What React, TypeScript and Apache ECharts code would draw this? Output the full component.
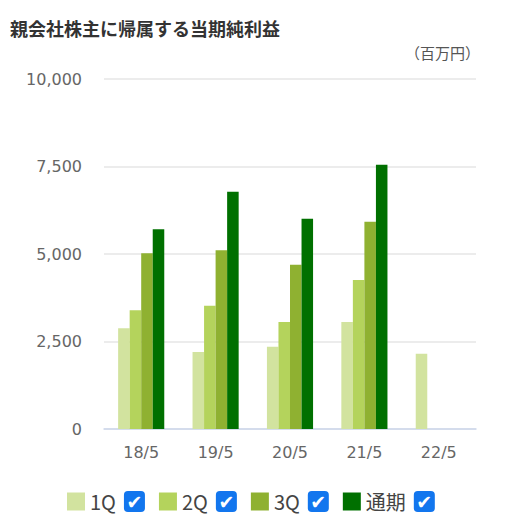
import * as echarts from 'echarts';
import { useEffect, useRef } from 'react';

const categories = ['18/5', '19/5', '20/5', '21/5', '22/5'];
const seriesNames = ['1Q', '2Q', '3Q', '通期'];
const q1 = [2880, 2200, 2350, 3060, 2150];
const q2 = [3390, 3520, 3060, 4260, null];
const q3 = [5020, 5110, 4690, 5920, null];
const full = [5710, 6780, 6010, 7550, null];
const colors = ['#d2e39f', '#b4d35c', '#8fb131', '#007000'];

export default function App() {
    const chartRef = useRef<HTMLDivElement>(null);

    useEffect(() => {
        document.body.style.margin = '0';
        const chart = echarts.init(chartRef.current, null, { renderer: 'svg' });
        const values = [q1, q2, q3, full];

        chart.setOption({
            animation: false,
            title: {
                text: '親会社株主に帰属する当期純利益',
                left: 10,
                top: 19,
                padding: 0,
                textStyle: {
                    fontSize: 18,
                    fontWeight: 'bold',
                    color: '#333',
                    fontFamily: '"Noto Sans CJK JP", sans-serif',
                },
            },
            graphic: [
                {
                    type: 'text',
                    right: 45,
                    top: 45,
                    style: {
                        text: '（百万円）',
                        fontSize: 15,
                        fill: '#555',
                        fontFamily: '"Noto Sans CJK JP", sans-serif',
                    },
                },
            ],
            legend: {
                left: 62,
                top: 486,
                icon: 'rect',
                itemWidth: 18,
                itemHeight: 18,
                itemGap: 14,
                itemTextGap: 9,
                selectedMode: false,
                data: seriesNames,
                formatter: (name: string) => `{n|${name}}{s|}{c|✔}`,
                textStyle: {
                    rich: {
                        n: {
                            fontSize: 20,
                            color: '#444',
                            fontFamily: '"Noto Sans CJK JP", sans-serif',
                        },
                        s: { width: 8 },
                        c: {
                            width: 21,
                            height: 21,
                            lineHeight: 21,
                            align: 'center',
                            backgroundColor: '#1276ee',
                            borderRadius: 4,
                            color: '#fff',
                            fontSize: 19,
                            fontWeight: 'bold',
                            fontFamily: 'DejaVu Sans',
                        },
                    },
                },
            },
            grid: {
                left: 104,
                right: 49,
                top: 79,
                bottom: 89,
            },
            xAxis: {
                type: 'category',
                data: categories,
                axisTick: { show: false },
                axisLine: { lineStyle: { color: '#ccd6eb', width: 1.5 } },
                axisLabel: {
                    color: '#666',
                    fontSize: 16,
                    margin: 15,
                    fontFamily: '"DejaVu Sans", sans-serif',
                },
            },
            yAxis: {
                type: 'value',
                min: 0,
                max: 10000,
                interval: 2500,
                axisLabel: {
                    color: '#666',
                    fontSize: 16,
                    margin: 22,
                    fontFamily: '"DejaVu Sans", sans-serif',
                    formatter: (v: number) => v.toLocaleString('en-US'),
                },
                splitLine: { lineStyle: { color: '#e6e6e6', width: 1.5 } },
            },
            series: seriesNames.map((name, i) => ({
                name,
                type: 'bar',
                data: values[i],
                barGap: '0%',
                barCategoryGap: '38%',
                itemStyle: { color: colors[i] },
            })),
        });

        return () => {
            chart.dispose();
        };
    }, []);

    return <div ref={chartRef} style={{ width: 525, height: 518 }} />;
}
